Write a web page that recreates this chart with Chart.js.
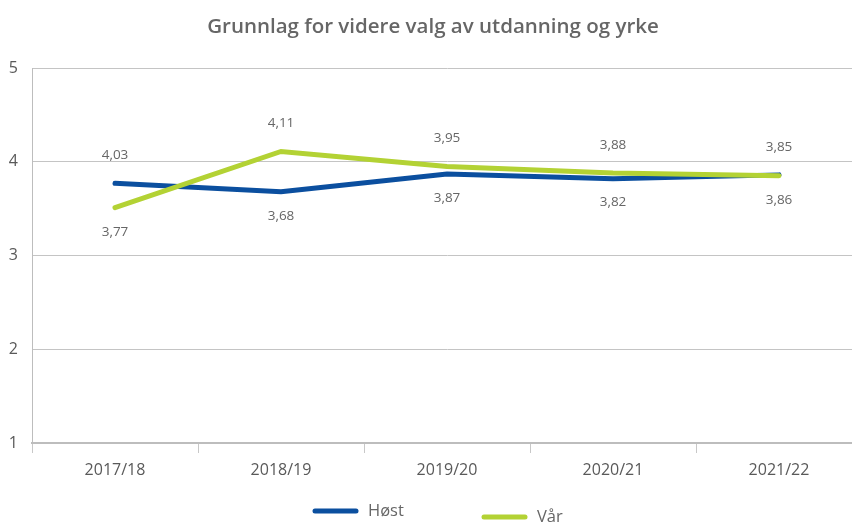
<!DOCTYPE html>
<html>
<head>
<meta charset="utf-8">
<script src="https://cdn.jsdelivr.net/npm/chart.js@4.4.0/dist/chart.umd.min.js"></script>
<style>
  html, body { margin: 0; padding: 0; background: #fff; }
  #wrap { width: 852px; height: 523px; overflow: hidden; position: relative; }
  #chart { position: absolute; left: 0; top: 0; }
</style>
</head>
<body>
<div id="wrap"><canvas id="chart" width="870" height="523"></canvas></div>
<script>
// ---- data ----
const chartTitle = 'Grunnlag for videre valg av utdanning og yrke';
const years = ['2017/18', '2018/19', '2019/20', '2020/21', '2021/22'];
const seriesNames = ['Høst', 'Vår'];
const hostValues = [3.77, 3.68, 3.87, 3.82, 3.86];
const varValues = [3.51, 4.11, 3.95, 3.88, 3.85];
// value labels as printed in the picture (upper label above, lower label below the pair of points)
const upperLabels = ['4,03', '4,11', '3,95', '3,88', '3,85'];
const lowerLabels = ['3,77', '3,68', '3,87', '3,82', '3,86'];
const yTicks = [1, 2, 3, 4, 5];

const BLUE = '#0b4f9f';
const GREEN = '#b3d234';
const TEXT = '#666666';
const FONT = '"Open Sans", "Noto Sans", sans-serif';

// title, custom staggered legend and value labels
const decor = {
    id: 'decor',
    afterDraw(chart) {
        const ctx = chart.ctx;
        ctx.save();

        // title
        ctx.fillStyle = TEXT;
        ctx.font = '600 20.5px ' + FONT;
        ctx.textAlign = 'center';
        ctx.textBaseline = 'middle';
        ctx.fillText(chartTitle, 433, 27);

        // value labels
        ctx.font = '13.5px ' + FONT;
        const m0 = chart.getDatasetMeta(0);
        const m1 = chart.getDatasetMeta(1);
        years.forEach((y, i) => {
            const p0 = m0.data[i], p1 = m1.data[i];
            const top = Math.min(p0.y, p1.y);
            const bot = Math.max(p0.y, p1.y);
            ctx.fillText(upperLabels[i], p0.x, top - 28);
            ctx.fillText(lowerLabels[i], p0.x, bot + 24);
        });

        // legend
        const items = [
            { color: BLUE, text: seriesNames[0], x: 313, y: 511 },
            { color: GREEN, text: seriesNames[1], x: 482, y: 517 }
        ];
        ctx.lineCap = 'round';
        ctx.lineWidth = 5;
        ctx.textAlign = 'left';
        ctx.font = '16.5px ' + FONT;
        items.forEach(it => {
            ctx.strokeStyle = it.color;
            ctx.beginPath();
            ctx.moveTo(it.x + 2, it.y);
            ctx.lineTo(it.x + 43, it.y);
            ctx.stroke();
            ctx.fillStyle = TEXT;
            ctx.fillText(it.text, it.x + 55, it.y);
        });
        ctx.restore();
    }
};

new Chart(document.getElementById('chart'), {
    type: 'line',
    data: {
        labels: years,
        datasets: [
            {
                label: seriesNames[0],
                data: hostValues,
                borderColor: BLUE,
                backgroundColor: BLUE,
                borderWidth: 5,
                borderCapStyle: 'round',
                pointRadius: 0,
                tension: 0,
                order: 1
            },
            {
                label: seriesNames[1],
                data: varValues,
                borderColor: GREEN,
                backgroundColor: GREEN,
                borderWidth: 5,
                borderCapStyle: 'round',
                pointRadius: 0,
                tension: 0,
                order: 0
            }
        ]
    },
    options: {
        responsive: false,
        animation: false,
        layout: { padding: { top: 68, right: 8, left: 0, bottom: 0 } },
        plugins: {
            legend: { display: false },
            title: { display: false },
            tooltip: { enabled: false }
        },
        scales: {
            x: {
                offset: true,
                afterFit: (s) => { s.height = 80; },
                grid: {
                    offset: true,
                    drawOnChartArea: false,
                    drawTicks: true,
                    tickLength: 10,
                    color: '#c8c8c8'
                },
                border: { color: '#bdbdbd', width: 2 },
                ticks: {
                    color: '#595959',
                    font: { family: FONT, size: 16 },
                    padding: 8,
                    maxRotation: 0
                }
            },
            y: {
                min: 1,
                max: 5,
                afterFit: (s) => { s.width = 32; },
                afterBuildTicks: (s) => { s.ticks = yTicks.map(v => ({ value: v })); },
                grid: { color: '#c4c4c4', lineWidth: 1, drawTicks: false },
                border: { color: '#bdbdbd', width: 1 },
                ticks: {
                    color: '#595959',
                    font: { family: FONT, size: 16 },
                    padding: 14
                }
            }
        }
    },
    plugins: [decor]
});
</script>
</body>
</html>
